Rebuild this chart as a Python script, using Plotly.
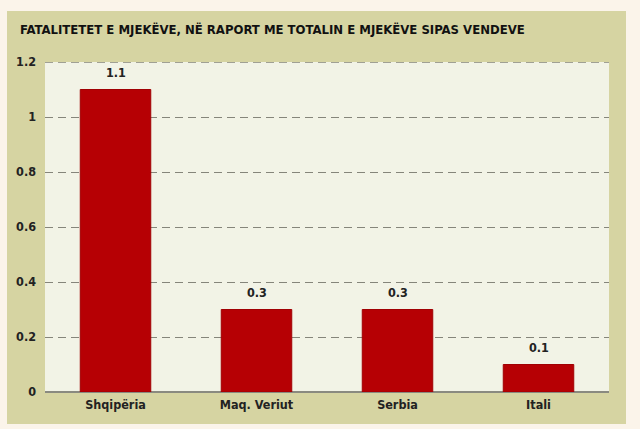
import plotly.graph_objects as go

categories = ["Shqipëria", "Maq. Veriut", "Serbia", "Itali"]
values = [1.1, 0.3, 0.3, 0.1]
value_labels = ["1.1", "0.3", "0.3", "0.1"]
tick_vals = [0, 0.2, 0.4, 0.6, 0.8, 1, 1.2]
tick_text = ["0", "0.2", "0.4", "0.6", "0.8", "1", "1.2"]
title_text = "FATALITETET E MJEKËVE, NË RAPORT ME TOTALIN E MJEKËVE SIPAS VENDEVE"

W, H = 640, 429
L, R, T, B = 45, 31, 62, 37
pw, ph = W - L - R, H - T - B

def px_x(p):
    return (p - L) / pw

def px_y(p):
    return (H - B - p) / ph

FONT = "DejaVu Sans Condensed, Roboto Condensed, Arial Narrow, sans-serif"
GRID = "#85857a"

fig = go.Figure()
fig.add_trace(go.Bar(
    x=categories, y=values,
    marker=dict(color="#b60004", line=dict(color="#a00003", width=1)),
    width=0.5, hoverinfo="x+y",
))

annotations = [
    dict(text="<b>" + title_text + "</b>", xref="paper", yref="paper",
         x=px_x(18), y=px_y(29.5), xanchor="left", yanchor="middle",
         showarrow=False,
         font=dict(family=FONT, size=13, color="#111111")),
]
for c, v, t in zip(categories, values, value_labels):
    annotations.append(dict(
        x=c, y=v, text="<b>" + t + "</b>", xref="x", yref="y",
        showarrow=False, yanchor="middle", yshift=17,
        font=dict(family=FONT, size=12.5, color="#222222"),
    ))

fig.update_layout(
    width=W, height=H,
    margin=dict(l=L, r=R, t=T, b=B),
    paper_bgcolor="#fbf4ea",
    plot_bgcolor="#f2f3e6",
    showlegend=False,
    bargap=0.5,
    shapes=[
        dict(type="rect", xref="paper", yref="paper",
             x0=px_x(7), x1=px_x(626), y0=px_y(424), y1=px_y(11),
             fillcolor="#d6d4a2", line=dict(width=0), layer="below"),
        dict(type="rect", xref="paper", yref="paper",
             x0=0, x1=1, y0=0, y1=1,
             fillcolor="#f2f3e6", line=dict(width=0), layer="below"),
        dict(type="line", xref="paper", yref="y",
             x0=0, x1=1, y0=tick_vals[-1], y1=tick_vals[-1],
             line=dict(color=GRID, width=1.4, dash="8px,5px"), layer="below"),
    ],
    annotations=annotations,
    xaxis=dict(
        showgrid=False, showline=False, zeroline=False,
        tickfont=dict(family=FONT, size=12.5, color="#222222", weight="bold"),
        ticks="", ticklabelstandoff=3,
    ),
    yaxis=dict(
        range=[0, 1.2], tickvals=tick_vals, ticktext=tick_text,
        showgrid=True, gridcolor=GRID, griddash="8px,5px", gridwidth=1.4,
        zeroline=True, zerolinecolor="#8a8a80", zerolinewidth=2,
        showline=False, ticks="", ticklabelstandoff=8,
        tickfont=dict(family=FONT, size=12.5, color="#222222", weight="bold"),
    ),
)

fig.write_html("out.html",
               config={"displayModeBar": False},
               post_script="document.body.style.margin='0';document.body.style.background='#fbf4ea';")
